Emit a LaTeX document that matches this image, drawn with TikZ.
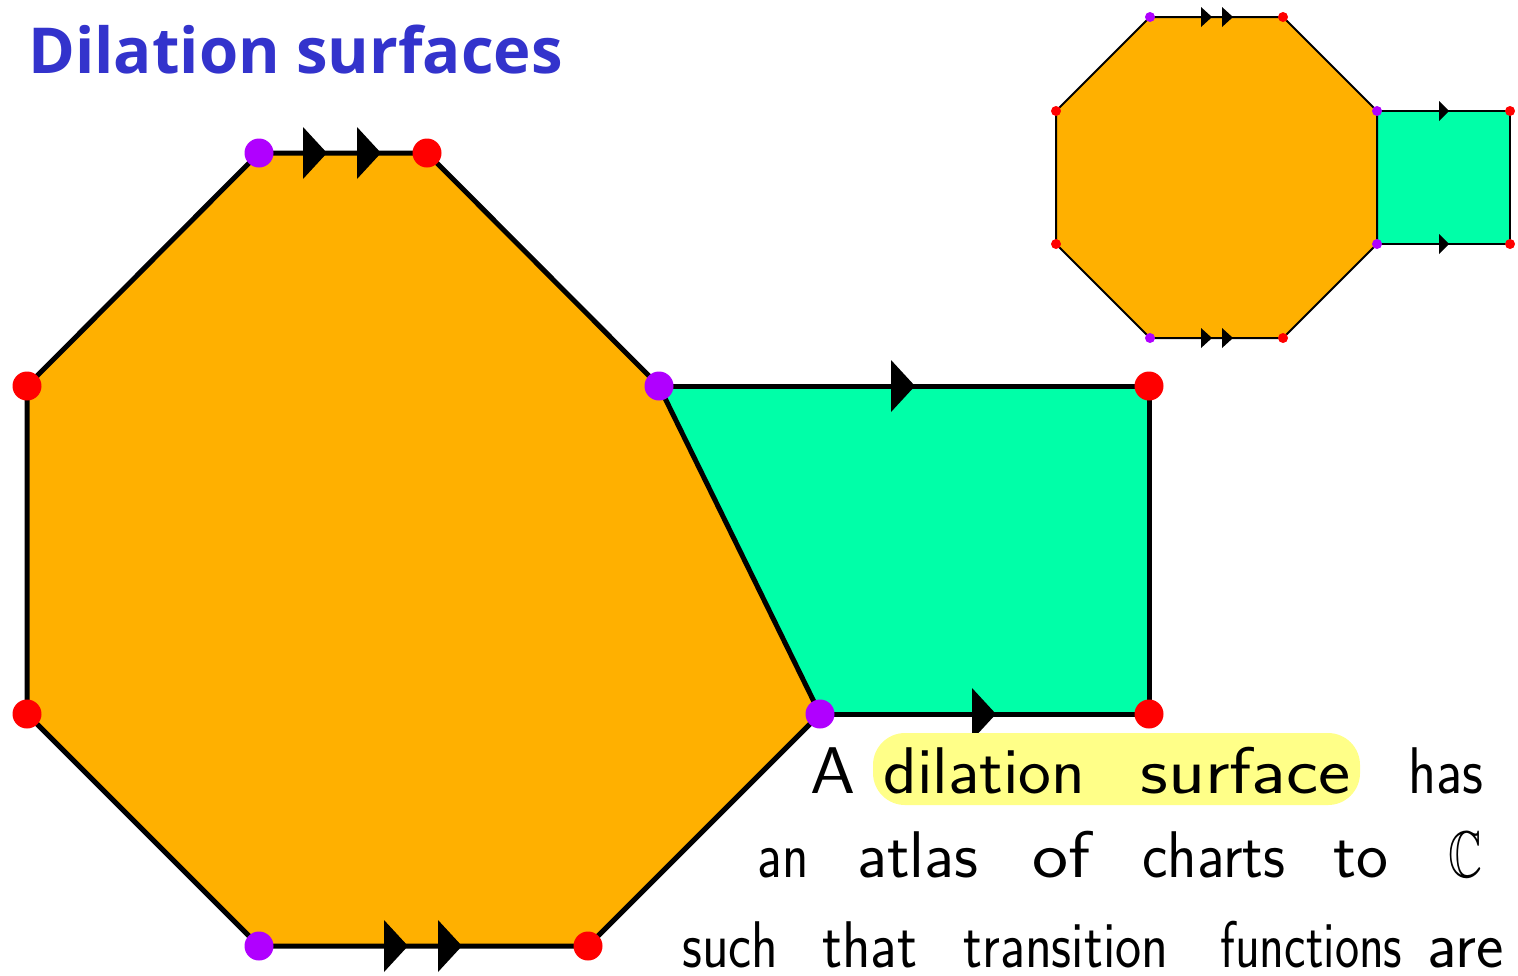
\documentclass[tikz,border=0pt]{standalone}
\usepackage{fontspec}
\usepackage{graphicx}
\newfontfamily\titlefont{Open Sans}
\usepackage{amssymb}
\definecolor{ttl}{RGB}{51,51,204}
\definecolor{orng}{RGB}{255,176,0}
\definecolor{grn}{RGB}{0,255,168}
\definecolor{purp}{RGB}{176,0,255}
\definecolor{rd}{RGB}{255,0,0}
\definecolor{hil}{RGB}{255,255,136}
\newcommand\arrtri[4]{\fill (#1,#2) ++(0,-#4) -- ++(#3,#4) -- ++(-#3,#4) -- cycle;}
\newcommand\hwword[2]{\resizebox{#1pt}{\height}{#2}}
\tikzset{
  bigedge/.style={line width=2.5pt,line join=round},
  smalledge/.style={line width=1pt,line join=round},
  pbig/.style={circle,fill=purp,inner sep=0pt,minimum size=14.5pt},
  rbig/.style={circle,fill=rd,inner sep=0pt,minimum size=14.5pt},
  psmall/.style={circle,fill=purp,inner sep=0pt,minimum size=5pt},
  rsmall/.style={circle,fill=rd,inner sep=0pt,minimum size=5pt},
  word/.style={anchor=base west,inner sep=0pt,font=\sffamily\fontsize{33}{40}\selectfont},
}
\begin{document}
\begin{tikzpicture}[x=0.5pt,y=-0.5pt]
\useasboundingbox[fill=white] (0,0) rectangle (1518,975);
% title
\node[anchor=base west,inner sep=0pt,text=ttl,font=\titlefont\bfseries\fontsize{31.7}{38}\selectfont] (title) at (28,73) {Dilation surfaces};
% big diagram coordinates
\coordinate (A) at (259,153);
\coordinate (B) at (427,153);
\coordinate (C) at (659,386);
\coordinate (D) at (820,714);
\coordinate (E) at (588,946);
\coordinate (F) at (259,946);
\coordinate (G) at (27,714);
\coordinate (H) at (27,386);
\coordinate (I) at (1149,386);
\coordinate (J) at (1149,714);
\fill[orng] (A) -- (B) -- (C) -- (D) -- (E) -- (F) -- (G) -- (H) -- cycle;
\fill[grn] (C) -- (I) -- (J) -- (D) -- cycle;
\draw[bigedge] (A) -- (B) -- (C) -- (D) -- (E) -- (F) -- (G) -- (H) -- cycle;
\draw[bigedge] (C) -- (I) -- (J) -- (D);
\arrtri{303}{153}{24}{26}
\arrtri{357}{153}{24}{26}
\arrtri{384}{946}{24}{26}
\arrtri{438}{946}{24}{26}
\arrtri{891}{386}{24}{26}
\arrtri{972}{714}{24}{26}
\node[pbig] (nA) at (A) {};
\node[rbig] (nB) at (B) {};
\node[pbig] (nC) at (C) {};
\node[pbig] (nD) at (D) {};
\node[rbig] (nE) at (E) {};
\node[pbig] (nF) at (F) {};
\node[rbig] (nG) at (G) {};
\node[rbig] (nH) at (H) {};
\node[rbig] (nI) at (I) {};
\node[rbig] (nJ) at (J) {};
% small diagram
\coordinate (a) at (1150,17);
\coordinate (b) at (1283,17);
\coordinate (c) at (1377,111);
\coordinate (d) at (1377,244);
\coordinate (e) at (1283,338);
\coordinate (f) at (1150,338);
\coordinate (g) at (1056,244);
\coordinate (h) at (1056,111);
\coordinate (i) at (1510,111);
\coordinate (j) at (1510,244);
\fill[orng] (a) -- (b) -- (c) -- (d) -- (e) -- (f) -- (g) -- (h) -- cycle;
\fill[grn] (c) -- (i) -- (j) -- (d) -- cycle;
\draw[smalledge] (a) -- (b) -- (c) -- (d) -- (e) -- (f) -- (g) -- (h) -- cycle;
\draw[smalledge] (c) -- (i) -- (j) -- (d);
\arrtri{1201}{17}{11}{10}
\arrtri{1222}{17}{11}{10}
\arrtri{1201}{338}{11}{10}
\arrtri{1222}{338}{11}{10}
\arrtri{1439}{111}{10}{10}
\arrtri{1439}{244}{10}{10}
\node[psmall] (na) at (a) {};
\node[rsmall] (nb) at (b) {};
\node[psmall] (nc) at (c) {};
\node[psmall] (nd) at (d) {};
\node[rsmall] (ne) at (e) {};
\node[psmall] (nf) at (f) {};
\node[rsmall] (ng) at (g) {};
\node[rsmall] (nh) at (h) {};
\node[rsmall] (ni) at (i) {};
\node[rsmall] (nj) at (j) {};
% highlight
\fill[hil,rounded corners=16pt] (873,733) rectangle (1360,805);
% text line 1
\node[word] (w1) at (810,793) {\hwword{22.5}{A}};
\node[word] (w2) at (883,793) {\hwword{101}{dilation}};
\node[word] (w3) at (1140,793) {\hwword{105}{surface}};
\node[word] (w4) at (1408,793) {\hwword{37.5}{has}};
% line 2
\node[word] (w5) at (757,877) {\hwword{25.5}{an}};
\node[word] (w6) at (857,877) {\hwword{60.5}{atlas}};
\node[word] (w7) at (1032,877) {\hwword{29}{of}};
\node[word] (w8) at (1142,877) {\hwword{71.5}{charts}};
\node[word] (w9) at (1333,877) {\hwword{27.5}{to}};
\node[word] (w10) at (1448,877) {\hwword{17}{$\mathbb{C}$}};
% line 3
\node[word] (w11) at (682,967) {\hwword{48}{such}};
\node[word] (w12) at (822,967) {\hwword{47.5}{that}};
\node[word] (w13) at (963,967) {\hwword{102.5}{transition}};
\node[word] (w14) at (1220,967) {\hwword{91}{functions}};
\node[word] (w15) at (1427,967) {\hwword{38}{are}};
\end{tikzpicture}
\end{document}
